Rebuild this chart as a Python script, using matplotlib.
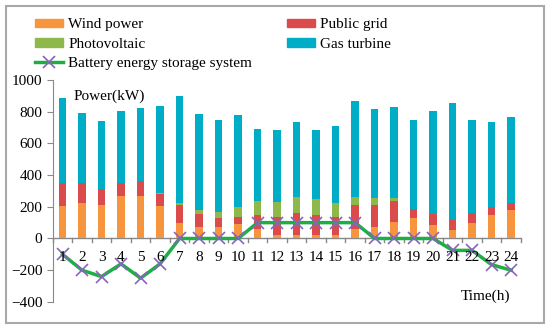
import matplotlib.pyplot as plt
import matplotlib.patches as patches
from matplotlib.lines import Line2D
import numpy as np

plt.rcParams['font.family'] = ['Liberation Serif', 'DejaVu Serif']

hours = list(range(1, 25))
wind = [207, 226, 214, 270, 266, 207, 100, 75, 71, 92, 61, 23,
        25, 25, 19, 61, 75, 105, 128, 82, 52, 99, 151, 178]
grid = [145, 122, 98, 78, 97, 76, 110, 78, 57, 42, 90, 111,
        134, 126, 119, 149, 139, 132, 59, 75, 63, 62, 46, 46]
pv = [0, 0, 0, 0, 0, 6, 12, 25, 36, 63, 88, 97,
      101, 96, 84, 54, 40, 17, 0, 0, 0, 0, 0, 0]
gas = [533, 442, 428, 455, 457, 547, 679, 608, 586, 583, 453, 450,
       474, 434, 489, 602, 562, 572, 563, 646, 736, 585, 539, 539]
battery = [-100, -200, -240, -160, -250, -160, 0, 0, 0, 0, 100, 100,
           100, 100, 100, 100, 0, 0, 0, 0, -75, -75, -165, -200]

c_wind = '#F7953F'
c_grid = '#DC4B4B'
c_pv = '#8DB94A'
c_gas = '#00ADC6'
c_line = '#1DAF44'
c_mark = '#8A63BE'

fig = plt.figure(figsize=(5.5, 3.3), dpi=100)
ax = fig.add_axes([0.096, 0.085, 0.851, 0.673])

x = np.array(hours)
w = 0.4
b1 = np.array(wind)
b2 = b1 + np.array(grid)
b3 = b2 + np.array(pv)
ax.bar(x, wind, w, color=c_wind, zorder=2)
ax.bar(x, grid, w, bottom=b1, color=c_grid, zorder=2)
ax.bar(x, pv, w, bottom=b2, color=c_pv, zorder=2)
ax.bar(x, gas, w, bottom=b3, color=c_gas, zorder=2)
ax.plot(x, battery, color=c_line, lw=2.5, marker='x', ms=9, mec=c_mark,
        mew=1.2, zorder=3)

ax.set_xlim(0.5, 24.5)
ax.set_ylim(-400, 1000)
ax.set_yticks(range(-400, 1001, 200))
ax.tick_params(axis='y', direction='out', length=4, labelsize=11, color='#888888')
for s in ['top', 'right', 'bottom']:
    ax.spines[s].set_visible(False)
ax.spines['left'].set_color('#888888')
ax.set_xticks([])

# x axis drawn along zero
ax.axhline(0, color='#888888', lw=1, zorder=1)
for b in np.arange(0.5, 25, 1):
    ax.plot([b, b], [0, -22], color='#888888', lw=1, zorder=1, clip_on=False)
for h in hours:
    ax.annotate(str(h), (h, 0), xytext=(0, -9), textcoords='offset points',
                ha='center', va='top', fontsize=11)

ax.text(0.045, 0.925, 'Power(kW)', transform=ax.transAxes, fontsize=11,
        ha='left', va='center')
ax.text(0.925, 0.027, 'Time(h)', transform=ax.transAxes, fontsize=11,
        ha='center', va='center')

# legend (column-wise order so rows read Wind/Grid, PV/Gas, Battery)
handles = [patches.Patch(color=c_wind), patches.Patch(color=c_pv),
           Line2D([], [], color=c_line, lw=2.5, marker='x', ms=8, mec=c_mark, mew=1.2),
           patches.Patch(color=c_grid), patches.Patch(color=c_gas)]
labels = ['Wind power', 'Photovoltaic', 'Battery energy storage system',
          'Public grid', 'Gas turbine']
fig.legend(handles, labels, loc='upper left', bbox_to_anchor=(0.064, 0.944),
           ncol=2, frameon=False, fontsize=11, handlelength=1.85,
           handleheight=0.5, handletextpad=0.3, labelspacing=0.4,
           columnspacing=2.3, borderaxespad=0, borderpad=0)

fig.patches.append(patches.Rectangle((6 / 550, 7 / 330), 538 / 550, 317 / 330,
                                     transform=fig.transFigure, fill=False,
                                     edgecolor='#A8A8A8', lw=1.5))

plt.savefig('out.png')
